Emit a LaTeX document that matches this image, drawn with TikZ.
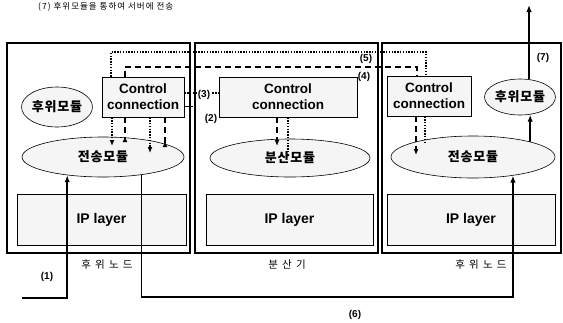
\documentclass[tikz,border=0pt]{standalone}
\usepackage{fontspec}
\setmainfont{Liberation Sans}
\newfontfamily\kr[LetterSpace=6]{Noto Sans CJK KR}
\newfontfamily\krw[LetterSpace=40]{Noto Sans CJK KR}
\newfontfamily\krt[LetterSpace=12]{Noto Sans CJK KR}
\usetikzlibrary{arrows.meta,shapes.geometric}
\begin{document}
\begin{tikzpicture}[x=1pt,y=-1pt,
  outer/.style={draw,line width=1.4pt,inner sep=0pt,minimum height=210},
  iplayer/.style={draw,line width=0.6pt,fill=gray!8,inner sep=0pt,minimum height=51,font=\fontsize{14}{16}\selectfont\bfseries},
  ctrl/.style={draw,line width=0.8pt,fill=gray!8,inner sep=0pt,minimum height=40,align=center,font=\fontsize{13.5}{16}\selectfont\bfseries},
  ell/.style={ellipse,draw,line width=0.6pt,fill=gray!8,inner sep=0pt,font=\kr\bfseries\fontsize{13}{15}\selectfont},
  big/.style={line width=1.5pt,-{Latex[length=7pt,width=5.5pt]}},
  dots/.style={line width=1.4pt,dash pattern=on 1.4pt off 1.4pt},
  dsh/.style={line width=1.2pt,dash pattern=on 6pt off 4pt},
  tipd/.style={-{Latex[length=6pt,width=5pt]}},
  tipu/.style={-{Latex[length=6pt,width=5pt,reversed]}},
  lab/.style={inner sep=1pt,font=\fontsize{10}{12}\selectfont\bfseries},
  klab/.style={inner sep=0pt,font=\krw\fontsize{10.5}{12}\selectfont}]
\useasboundingbox (0,0) rectangle (563,322);
% outer boxes
\node[outer,minimum width=183] (B1) at (98.5,148) {};
\node[outer,minimum width=183] (B2) at (286.5,148) {};
\node[outer,minimum width=179] (B3) at (471.5,148) {};
% IP layers
\node[iplayer,minimum width=169] (IP1) at (101.5,219.5) {IP layer};
\node[iplayer,minimum width=167] (IP2) at (289.5,219.5) {IP layer};
\node[iplayer,minimum width=168] (IP3) at (471,219.5) {IP layer};
% control connection boxes
\node[ctrl,minimum width=82] (C1) at (143,97) {Control\\connection};
\node[ctrl,minimum width=138] (C2) at (288,97) {Control\\connection};
\node[ctrl,minimum width=84] (C3) at (429,96) {Control\\connection};
% ellipses
\node[ell,minimum width=70,minimum height=40] (M1) at (57,107) {후위모듈};
\node[ell,minimum width=162,minimum height=40] (T1) at (103,157) {전송모듈};
\node[ell,minimum width=160,minimum height=38] (D2) at (290,158) {분산모듈};
\node[ell,minimum width=70,minimum height=36] (M3) at (520,97) {후위모듈};
\node[ell,minimum width=164,minimum height=42] (T3) at (473,157) {전송모듈};
% coordinates
\coordinate (s1) at (22,298);
\coordinate (y6) at (0,297);
\coordinate (top7) at (0,5);
\coordinate (x111) at (111,52);
\coordinate (x426) at (426,52);
\coordinate (x125) at (125,67);
\coordinate (x417) at (417,67);
\coordinate (e1) at (112,146);
\coordinate (e2) at (125,142);
\coordinate (e3) at (150,153);
\coordinate (e4) at (165,147);
\coordinate (f1) at (277,146);
\coordinate (f2) at (288,156);
\coordinate (g1) at (416,155);
\coordinate (g2) at (425,143);
\coordinate (y93) at (0,93);
\coordinate (p2) at (193,106);
% (1), (6), (7)
\draw[big] (s1) -| (T1.207);
\draw[big] (T1.335) |- (T3.335 |- y6) -- (T3.335);
\draw[big] (T3.15) -- (T3.15 |- M3.297);
\draw[big] (M3.63) -- (M3.63 |- top7);
% (5) dotted and (4) dashed
\draw[dots] (C1.north -| x111) |- (x426) -- (C3.north -| x426);
\draw[dsh] (C1.north -| x125) |- (x417) -- (C3.north -| x417);
% under control boxes
\draw[dots,tipd] (C1.south -| e1) -- (e1);
\draw[dsh,tipu] (C1.south -| e2) -- (e2);
\draw[dots,tipd] (C1.south -| e3) -- (e3);
\draw[dsh,tipu] (C1.south -| e4) -- (e4);
\draw[dsh,tipd] (C2.south -| f1) -- (f1);
\draw[dots] (C2.south -| f2) -- (f2);
\draw[dsh,tipd] (C3.south -| g1) -- (g1);
\draw[dots] (C3.south -| g2) -- (g2);
% (3) and (2)
\draw[dots] (C1.east |- y93) -- (C2.west |- y93);
\draw[line width=1pt] (C1.east |- p2) -- (p2);
% labels
\node[lab] (L1) at (47,277) {(1)};
\node[lab] (L2) at (211,119) {(2)};
\node[lab,fill=white] (L3) at (204,95) {(3)};
\node[lab] (L4) at (364,77) {(4)};
\node[lab] (L5) at (366,59) {(5)};
\node[lab] (L6) at (355,315) {(6)};
\node[lab] (L7) at (543,58) {(7)};
\node[klab] (N1) at (107,265) {후위노드};
\node[klab] (N2) at (287,265) {분산기};
\node[klab] (N3) at (481,265) {후위노드};
\node[anchor=west,inner sep=0pt,font=\krt\fontsize{8.5}{10}\selectfont] (title) at (38,7) {(7) 후위모듈을 통하여 서버에 전송};
\end{tikzpicture}
\end{document}
